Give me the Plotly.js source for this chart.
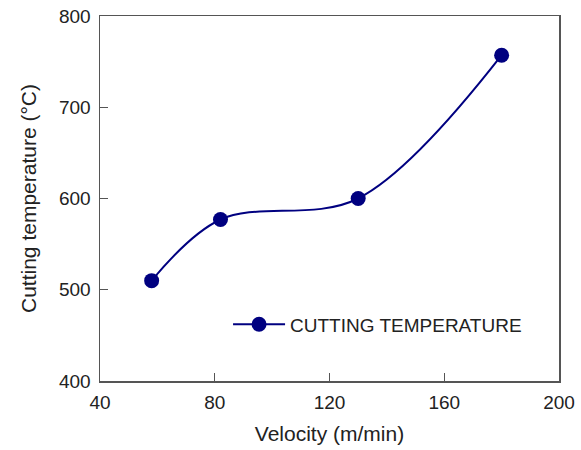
<!DOCTYPE html>
<html>
<head>
<meta charset="utf-8">
<script src="https://cdn.plot.ly/plotly-3.0.1.min.js"></script>
<style>html,body{margin:0;padding:0;background:#fff;}#chart{width:581px;height:450px;}</style>
</head>
<body>
<div id="chart"></div>
<script>
const velocity = [58, 82, 130, 180];
const temperature = [510, 577, 600, 757];
const seriesName = "CUTTING TEMPERATURE";
const xTicks = [40, 80, 120, 160, 200];
const yTicks = [400, 500, 600, 700, 800];

const fam = "Arial, 'Liberation Sans', sans-serif";
const tickFont = {family: fam, size: 19, color: "#222"};
const titleFont = {family: fam, size: 21, color: "#222"};
const legendFont = {family: fam, size: 19, color: "#222"};
const axisCommon = {
  showgrid: false, zeroline: false, showline: true, mirror: true,
  linecolor: "#555", linewidth: 1.5,
  ticks: "inside", ticklen: 8, tickwidth: 1.2, tickcolor: "#555",
  tickfont: tickFont
};
Plotly.newPlot("chart", [{
  x: velocity, y: temperature, name: seriesName,
  type: "scatter", mode: "lines+markers",
  line: {shape: "spline", smoothing: 1, color: "#000080", width: 2},
  marker: {size: 15, color: "#000080"}
}], {
  width: 581, height: 450,
  margin: {l: 100, r: 22, t: 16, b: 69},
  paper_bgcolor: "#fff", plot_bgcolor: "#fff",
  font: tickFont,
  showlegend: true,
  legend: {x: 0.279, y: 0.155, xanchor: "left", yanchor: "middle", itemwidth: 52,
    bgcolor: "rgba(0,0,0,0)", font: legendFont},
  xaxis: Object.assign({}, axisCommon, {range: [40, 200], tickvals: xTicks, ticktext: xTicks.map(String),
    ticklabelstandoff: 4,
    title: {text: "Velocity (m/min)", font: titleFont, standoff: 14}}),
  yaxis: Object.assign({}, axisCommon, {range: [400, 800], tickvals: yTicks, ticktext: yTicks.map(String),
    ticklabelstandoff: 4,
    title: {text: "Cutting temperature (°C)", font: titleFont, standoff: 16}})
}, {staticPlot: true});
</script>
</body>
</html>
